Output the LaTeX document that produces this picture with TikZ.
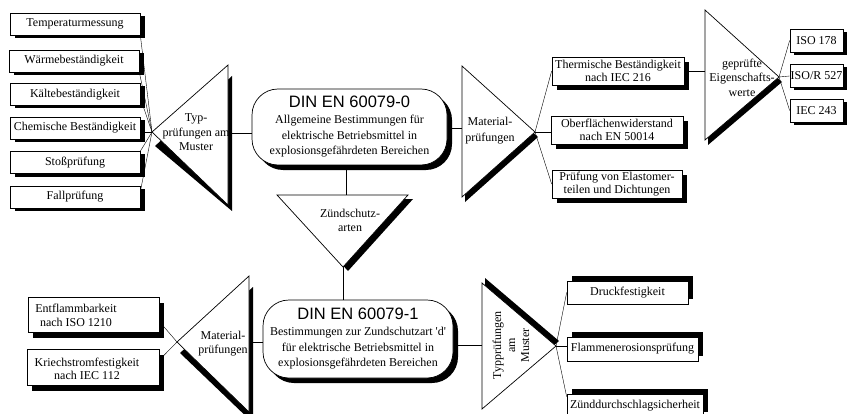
\documentclass[tikz,border=0pt]{standalone}
\usepackage{fontspec}
\setmainfont{Liberation Serif}
\setsansfont{Liberation Sans}
\usetikzlibrary{shadows,backgrounds,calc}

\newcommand\boxfont{\fontsize{12}{12.5}\selectfont}
\newcommand\dinfont{\fontsize{12}{15.5}\selectfont}
\newcommand\titlefont{\sffamily\fontsize{16.5}{18}\selectfont}

\begin{document}
\begin{tikzpicture}[x=1pt,y=-1pt,line width=0.6pt,
  box/.style={draw, fill=white, line width=0.7pt, inner sep=0pt, align=center, font=\boxfont},
  din/.style={draw, fill=white, line width=0.7pt, inner sep=0pt, align=center,
    rounded corners=26pt, font=\dinfont},
  sh/.style 2 args={drop shadow={shadow xshift=#1pt, shadow yshift=#2pt, opacity=1, fill=black}},
  tritext/.style={inner sep=0pt, align=center, font=\fontsize{12}{#1}\selectfont},
  tritext/.default=14.5,
  trishape/.style={draw, fill=white, line width=0.7pt, line join=miter},
]
\useasboundingbox (0,0) rectangle (850,414);
\clip (0,0) rectangle (850,414);

% ---- left column of type tests ----
\node[box, sh={5}{-3}, minimum width=130pt, minimum height=22pt] (tm) at (75,24)    {Temperaturmessung};
\node[box, sh={5}{-3}, minimum width=130pt, minimum height=22pt] (wb) at (74,61)    {Wärmebeständigkeit};
\node[box, sh={5}{-3}, minimum width=130pt, minimum height=22pt] (kb) at (75,94.5) {Kältebeständigkeit};
\node[box, sh={5}{-3}, minimum width=130pt, minimum height=22pt] (cb) at (75,128)   {Chemische Beständigkeit};
\node[box, sh={5}{-3}, minimum width=130pt, minimum height=22pt] (sp) at (75,162.5) {Stoßprüfung};
\node[box, sh={5}{-3}, minimum width=130pt, minimum height=22pt] (fp) at (75,197)   {Fallprüfung};

% ---- triangle: type tests (pointing left) ----
\coordinate (typA) at (152,132);
\coordinate (typT) at (228,65);
\coordinate (typB) at (228,205);
\fill (155,146) -- (232,76) -- (232,211) -- cycle;
\draw[trishape] (typA) -- (typT) -- (typB) -- cycle;
\node[tritext] (typtxt) at (196,132.5) {Typ-\\prüfungen am\\Muster};

% ---- main standard 60079-0 ----
\node[din, sh={5}{-5}, minimum width=195pt, minimum height=76pt] (din0) at (349.5,127)
  {{\titlefont DIN EN 60079-0}\\[0.5pt]Allgemeine Bestimmungen für\\elektrische Betriebsmittel in\\explosionsgefährdeten Bereichen};

% ---- triangle: material tests (pointing right) ----
\coordinate (matA) at (535,132);
\coordinate (matT) at (462,66);
\coordinate (matB) at (462,197);
\fill (465,71) -- (538,137) -- (465,202) -- cycle;
\draw[trishape] (matT) -- (matA) -- (matB) -- cycle;
\node[tritext=16] (mattxt) at (490,131) {Material-\\prüfungen};

\node[box, sh={5}{-5}, minimum width=132pt, minimum height=28pt] (th) at (618,71)  {Thermische Beständigkeit\\nach IEC 216};
\node[box, sh={5}{-5}, minimum width=132pt, minimum height=28pt] (ob) at (617,130) {Oberflächenwiderstand\\nach EN 50014};
\node[box, sh={5}{-5}, minimum width=130pt, minimum height=28pt] (el) at (617,184) {Prüfung von Elastomer-\\teilen und Dichtungen};

% ---- triangle: tested properties ----
\coordinate (gepT) at (705,10);
\coordinate (gepB) at (705,140);
\coordinate (gepA) at (779,77);
\fill (708,15) -- (782,82) -- (708,145) -- cycle;
\draw[trishape] (gepT) -- (gepA) -- (gepB) -- cycle;
\node[tritext] (geptxt) at (742,77.5) {geprüfte\\Eigenschafts-\\werte};

\node[box, sh={4}{-3}, minimum width=53pt, minimum height=23pt] (iso1) at (816.5,40.5) {ISO 178};
\node[box, sh={4}{-3}, minimum width=53pt, minimum height=23pt] (iso2) at (816.5,76)   {ISO/R 527};
\node[box, sh={4}{-3}, minimum width=53pt, minimum height=23pt] (iso3) at (816.5,110.5) {IEC 243};

% ---- triangle: types of protection (pointing down) ----
\coordinate (zL) at (277,195);
\coordinate (zR) at (408,195);
\coordinate (zA) at (343,267);
\fill (282,199) -- (413,199) -- (348,271) -- cycle;
\draw[trishape] (zL) -- (zR) -- (zA) -- cycle;
\node[tritext=14] (ztxt) at (350,220) {Zündschutz-\\arten};

% ---- standard 60079-1 ----
\node[din, sh={5}{-5}, minimum width=190pt, minimum height=78pt] (din1) at (358,339)
  {{\titlefont DIN EN 60079-1}\\[0.5pt]Bestimmungen zur Zundschutzart \textquotesingle d\textquotesingle\\für elektrische Betriebsmittel in\\explosionsgefährdeten Bereichen};

% ---- lower left: material tests ----
\coordinate (bmA) at (177,342);
\coordinate (bmT) at (249,276);
\coordinate (bmB) at (249,412);
\fill (180,353) -- (253,287) -- (253,423) -- cycle;
\draw[trishape] (bmA) -- (bmT) -- (bmB) -- cycle;
\node[tritext=14] (bmtxt) at (223,344) {Material-\\prüfungen};

\node[box, sh={5}{-6}, minimum width=131pt, minimum height=35pt] (ef) at (93.5,314.5) {};
\node[tritext=14] (eftxt) at (76,315) {Entflammbarkeit\\nach ISO 1210};
\node[box, sh={5}{-6}, minimum width=132pt, minimum height=36pt] (kr) at (93,367) {};
\node[tritext=13] (krtxt) at (87,368.5) {Kriechstromfestigkeit\\nach IEC 112};

% ---- lower right: type tests ----
\coordinate (tpT) at (482,283);
\coordinate (tpB) at (482,409);
\coordinate (tpA) at (556,346);
\fill (485,278) -- (559,341) -- (485,404) -- cycle;
\draw[trishape] (tpT) -- (tpA) -- (tpB) -- cycle;
\node[tritext=14, rotate=90] (tptxt) at (511,345.5) {Typprüfungen\\am\\Muster};

\node[box, sh={5}{5}, minimum width=121pt, minimum height=23pt] (df) at (627.5,292.5) {Druckfestigkeit};
\node[box, sh={5}{5}, minimum width=131pt, minimum height=24pt] (fe) at (632.5,349)   {Flammenerosionsprüfung};
\node[box, sh={5}{5}, minimum width=136pt, minimum height=23pt] (zd) at (635,405.5)   {Zünddurchschlagsicherheit};

% ---- connectors ----
\begin{pgfonlayer}{background}
\fill[white] (0,0) rectangle (850,414);
\draw (tm.south east) -- (typA);
\draw (wb.south east) -- (typA);
\draw ([yshift=-3.5pt]kb.east) -- (typA);
\draw ([yshift=-4pt]cb.east) -- (typA);
\draw (sp.north east) -- (typA);
\draw ([yshift=-6pt]fp.north east) -- (typA);

\draw ([yshift=-6pt]din0.west) -- ([yshift=-6pt]din0.west -| typT);
\draw ([yshift=-1pt]din0.east) -- ([yshift=-1pt]din0.east -| matT);
\draw (matA) -- (th.west);
\draw (matA) -- (ob.west |- matA);
\draw (matA) -- (el.west);
\draw (th.east) -- (th.east -| gepT);
\draw (gepA) -- (iso1.west);
\draw (gepA) -- (iso2.west);
\draw (gepA) -- (iso3.west);

\draw ([xshift=-3.5pt]din0.south) -- ([xshift=-3.5pt]din0.south |- zL);
\draw (zA) -- (zA |- din1.north);

\draw ([yshift=-3pt]din1.west) -- ([yshift=-3pt]din1.west -| bmT);
\draw ([yshift=-7pt]ef.east) -- (bmA);
\draw ([yshift=7pt]kr.east) -- (bmA);

\draw ([yshift=-6pt]din1.east) -- ([yshift=-6pt]din1.east -| tpT);
\draw (tpA) -- (df.west);
\draw (tpA) -- (fe.west |- tpA);
\draw (tpA) -- ([yshift=-3pt]zd.north west);
\end{pgfonlayer}
\end{tikzpicture}
\end{document}
